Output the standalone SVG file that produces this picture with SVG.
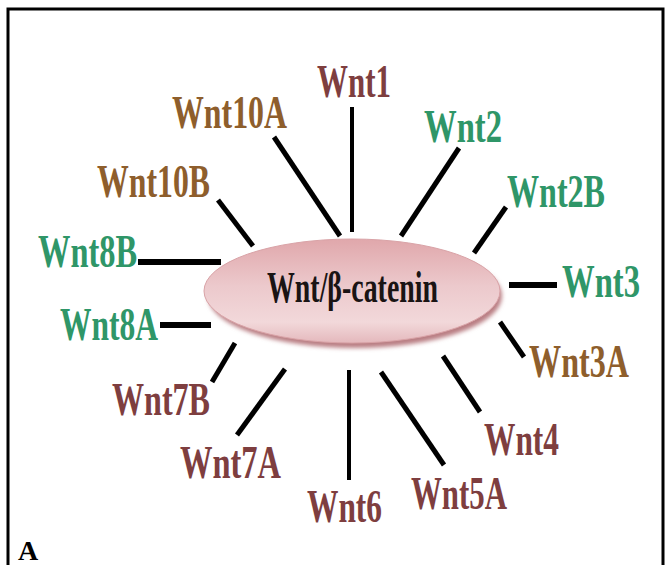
<svg xmlns="http://www.w3.org/2000/svg" width="671" height="565" viewBox="0 0 671 565">
<defs>
<style>
.lbl{font-family:"Liberation Serif","Times New Roman",serif;font-weight:bold;font-size:46px}
.red{fill:#7E3E3F}
.org{fill:#8E5E2C}
.grn{fill:#2F9668}
.ln{stroke:#000;stroke-width:5;stroke-linecap:butt;fill:none}
.h{stroke-width:6}
.v{stroke-width:4}
</style>
<linearGradient id="eg" x1="0" y1="0" x2="0" y2="1">
<stop offset="0" stop-color="#E0A7AB"/>
<stop offset="0.45" stop-color="#ECC9CC"/>
<stop offset="0.8" stop-color="#F2D8DA"/>
<stop offset="1" stop-color="#E4B8BC"/>
</linearGradient>
<filter id="blur" x="-10%" y="-20%" width="120%" height="140%"><feGaussianBlur stdDeviation="2"/></filter>
</defs>
<rect width="671" height="565" fill="#fff"/>
<path d="M8,565 V9 H663 V565" fill="none" stroke="#000" stroke-width="3"/>
<g id="connectors">
<line class="ln v" x1="352" y1="107" x2="352" y2="232"/>
<line class="ln" x1="274" y1="137" x2="340" y2="236"/>
<line class="ln" x1="459" y1="148" x2="401" y2="236"/>
<line class="ln" x1="506" y1="207" x2="474" y2="253"/>
<line class="ln" x1="218" y1="200" x2="253" y2="246"/>
<line class="ln h" x1="138" y1="262" x2="221" y2="262"/>
<line class="ln h" x1="160" y1="325" x2="211" y2="325"/>
<line class="ln h" x1="509" y1="285" x2="557" y2="285"/>
<line class="ln" x1="500" y1="322" x2="524" y2="357"/>
<line class="ln" x1="235" y1="343" x2="212" y2="382"/>
<line class="ln" x1="285" y1="369" x2="237" y2="435"/>
<line class="ln v" x1="349" y1="370" x2="349" y2="480"/>
<line class="ln" x1="381" y1="372" x2="444" y2="465"/>
<line class="ln" x1="443" y1="356" x2="480" y2="412"/>
</g>
<g id="center">
<ellipse cx="355" cy="296" rx="147" ry="52" fill="#B97E83" filter="url(#blur)"/>
<ellipse cx="352" cy="291" rx="148" ry="52" fill="url(#eg)" stroke="#D9A3A7" stroke-width="1"/>
<text x="267" y="302" textLength="171" lengthAdjust="spacingAndGlyphs" style="font-family:'Liberation Serif','Times New Roman',serif;font-weight:bold;font-size:44px;fill:#1A1414">Wnt/β-catenin</text>
</g>
<g id="wnt1"><text class="lbl red" x="317" y="97" textLength="74" lengthAdjust="spacingAndGlyphs">Wnt1</text></g>
<g id="wnt10a"><text class="lbl org" x="172" y="128" textLength="115" lengthAdjust="spacingAndGlyphs">Wnt10A</text></g>
<g id="wnt2"><text class="lbl grn" x="424" y="142" textLength="78" lengthAdjust="spacingAndGlyphs">Wnt2</text></g>
<g id="wnt10b"><text class="lbl org" x="97" y="197" textLength="113" lengthAdjust="spacingAndGlyphs">Wnt10B</text></g>
<g id="wnt2b"><text class="lbl grn" x="507" y="207" textLength="98" lengthAdjust="spacingAndGlyphs">Wnt2B</text></g>
<g id="wnt8b"><text class="lbl grn" x="38" y="267" textLength="99" lengthAdjust="spacingAndGlyphs">Wnt8B</text></g>
<g id="wnt3"><text class="lbl grn" x="562" y="297" textLength="78" lengthAdjust="spacingAndGlyphs">Wnt3</text></g>
<g id="wnt8a"><text class="lbl grn" x="60" y="340" textLength="98" lengthAdjust="spacingAndGlyphs">Wnt8A</text></g>
<g id="wnt3a"><text class="lbl org" x="529" y="377" textLength="100" lengthAdjust="spacingAndGlyphs">Wnt3A</text></g>
<g id="wnt7b"><text class="lbl red" x="112" y="415" textLength="98" lengthAdjust="spacingAndGlyphs">Wnt7B</text></g>
<g id="wnt4"><text class="lbl red" x="484" y="455" textLength="75" lengthAdjust="spacingAndGlyphs">Wnt4</text></g>
<g id="wnt7a"><text class="lbl red" x="180" y="478" textLength="101" lengthAdjust="spacingAndGlyphs">Wnt7A</text></g>
<g id="wnt5a"><text class="lbl red" x="411" y="509" textLength="96" lengthAdjust="spacingAndGlyphs">Wnt5A</text></g>
<g id="wnt6"><text class="lbl red" x="307" y="522" textLength="75" lengthAdjust="spacingAndGlyphs">Wnt6</text></g>
<text x="18" y="560" style="font-family:'Liberation Serif','Times New Roman',serif;font-weight:bold;font-size:28px;fill:#000">A</text>
</svg>
